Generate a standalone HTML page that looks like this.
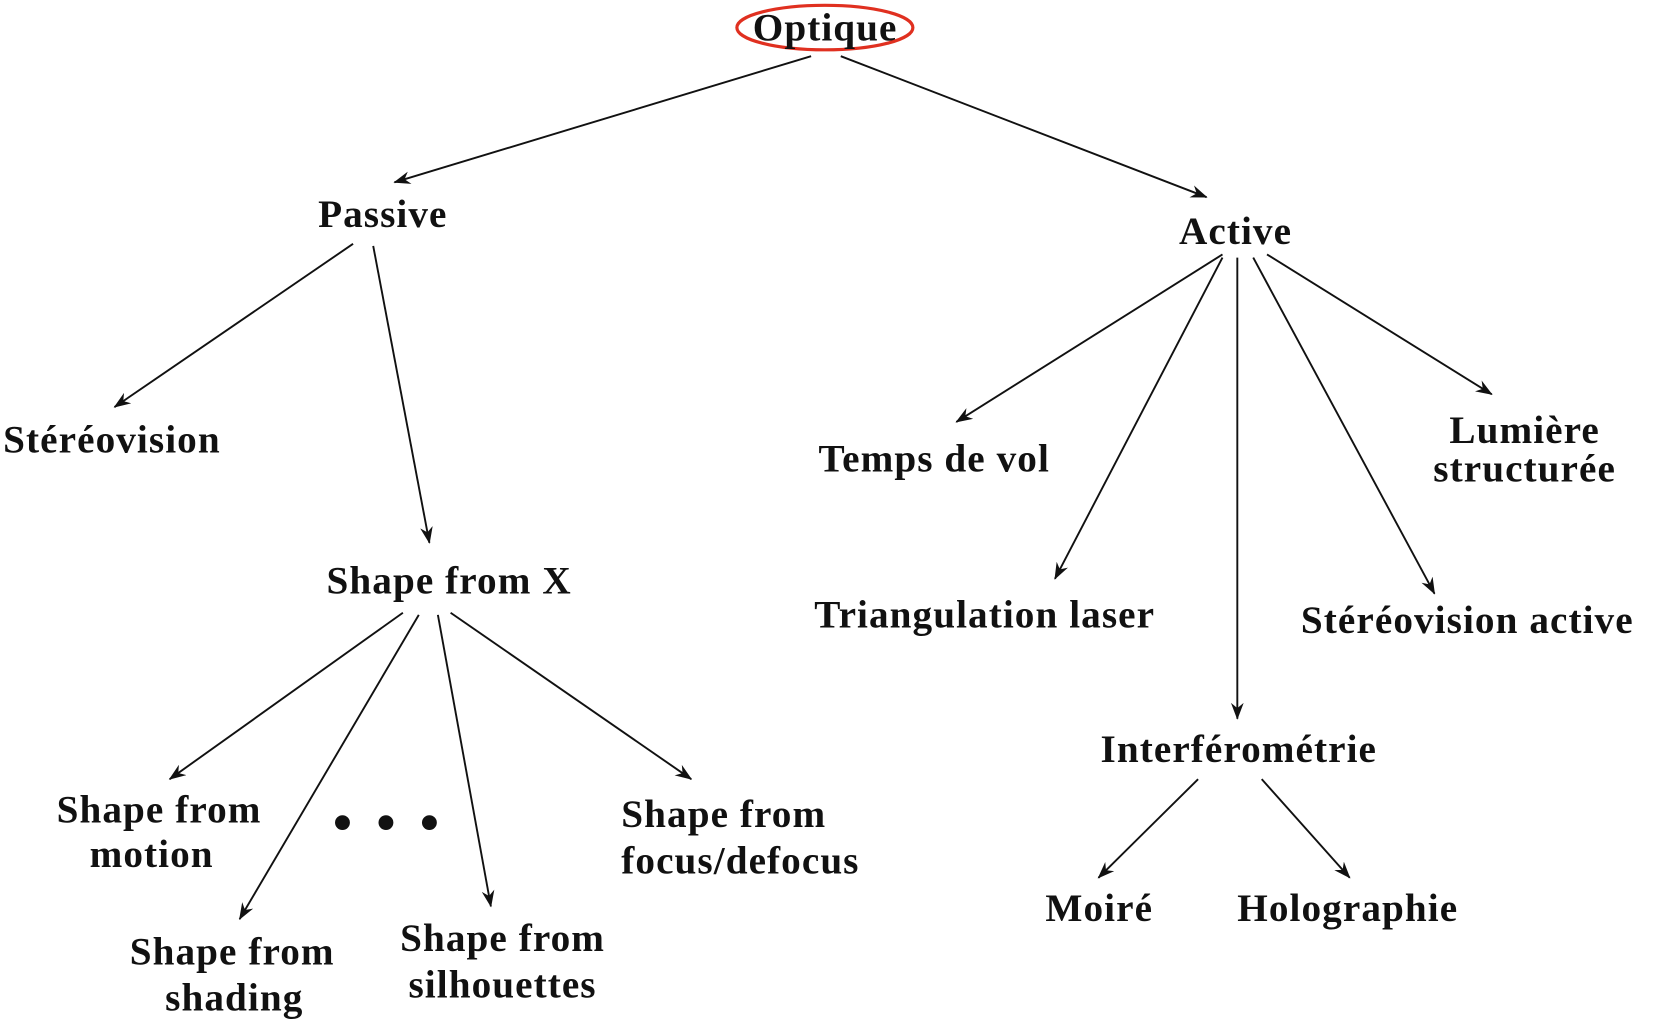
<!DOCTYPE html>
<html><head><meta charset="utf-8"><style>
html,body{margin:0;padding:0;background:#fff;}
svg{display:block;}
text{font-family:"Liberation Serif",serif;font-weight:bold;font-size:37px;letter-spacing:1px;fill:#111;}
line{stroke:#111;stroke-width:1.8;}
</style></head><body>
<svg width="1654" height="1023" viewBox="0 0 1560 965" preserveAspectRatio="none">
<defs><marker id="a" markerWidth="16" markerHeight="12" refX="15" refY="6" orient="auto" markerUnits="userSpaceOnUse"><path d="M0,0 L16,6 L0,12 L5,6 z" fill="#111"/></marker></defs>
<ellipse cx="778" cy="26" rx="83" ry="21" fill="none" stroke="#e03020" stroke-width="3"/>
<text x="710" y="38">Optique</text>
<g marker-end="url(#a)">
<line x1="765" y1="53" x2="372" y2="172"/>
<line x1="793" y1="53" x2="1138" y2="186"/>
<line x1="333" y1="230" x2="108" y2="384"/>
<line x1="352" y1="232" x2="405" y2="512"/>
<line x1="1153" y1="240" x2="902" y2="398"/>
<line x1="1153" y1="243" x2="995" y2="546"/>
<line x1="1167" y1="243" x2="1167" y2="678"/>
<line x1="1182" y1="243" x2="1353" y2="560"/>
<line x1="1195" y1="240" x2="1407" y2="372"/>
<line x1="380" y1="578" x2="160" y2="735"/>
<line x1="395" y1="580" x2="226" y2="867"/>
<line x1="413" y1="580" x2="463" y2="855"/>
<line x1="425" y1="578" x2="652" y2="735"/>
<line x1="1130" y1="735" x2="1036" y2="828"/>
<line x1="1190" y1="735" x2="1273" y2="828"/>
</g>
<text x="300" y="214">Passive</text>
<text x="1112" y="230">Active</text>
<text x="3" y="427">Stéréovision</text>
<text x="308" y="560">Shape from X</text>
<text x="772" y="445">Temps de vol</text>
<text x="1438" y="418" text-anchor="middle">Lumière</text>
<text x="1438" y="454" text-anchor="middle">structurée</text>
<text x="768" y="592">Triangulation laser</text>
<text x="1227" y="597">Stéréovision active</text>
<text x="1038" y="719">Interférométrie</text>
<text x="150" y="776" text-anchor="middle">Shape from</text>
<text x="143" y="818" text-anchor="middle">motion</text>
<circle cx="323" cy="776" r="7" fill="#111"/><circle cx="364" cy="776" r="7" fill="#111"/><circle cx="405" cy="776" r="7" fill="#111"/>
<text x="586" y="780">Shape from</text>
<text x="586" y="824">focus/defocus</text>
<text x="219" y="910" text-anchor="middle">Shape from</text>
<text x="221" y="953" text-anchor="middle">shading</text>
<text x="474" y="897" text-anchor="middle">Shape from</text>
<text x="474" y="941" text-anchor="middle">silhouettes</text>
<text x="986" y="869">Moiré</text>
<text x="1167" y="869">Holographie</text>
</svg>
</body></html>
